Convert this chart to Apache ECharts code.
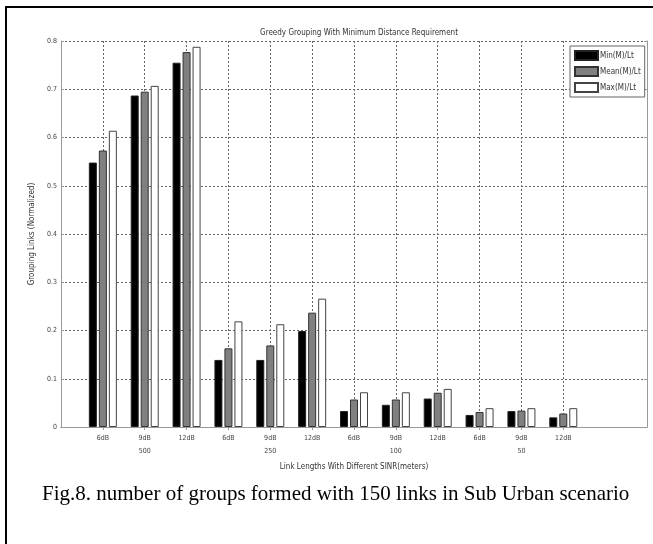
<!DOCTYPE html>
<html>
<head>
<meta charset="utf-8">
<script src="https://cdn.jsdelivr.net/npm/echarts@6/dist/echarts.min.js"></script>
<style>
html,body{margin:0;padding:0;background:#fff;}
#wrap{position:relative;width:653px;height:544px;overflow:hidden;}
#frame{position:absolute;left:5px;top:6px;width:660px;height:560px;border-left:2px solid #000;border-top:2px solid #000;box-sizing:border-box;}
#chart{position:absolute;left:0;top:0;width:653px;height:544px;}
#cap{position:absolute;left:42px;top:481px;font-family:'Liberation Serif','Times New Roman',serif;font-size:21px;color:#000;white-space:nowrap;}
</style>
</head>
<body>
<div id="wrap">
<div id="frame"></div>
<div id="chart"></div>
<div id="cap">Fig.8. number of groups formed with 150 links in Sub Urban scenario</div>
</div>
<script>
const categories = ['', '6dB','9dB','12dB','6dB','9dB','12dB','6dB','9dB','12dB','6dB','9dB','12dB', '', ''];
const groupLabels = {2:'500', 5:'250', 8:'100', 11:'50'};
const minVals  = [0.548,0.687,0.755,0.139,0.139,0.199,0.033,0.046,0.059,0.025,0.033,0.020];
const meanVals = [0.573,0.695,0.777,0.163,0.169,0.237,0.057,0.057,0.071,0.031,0.034,0.028];
const maxVals  = [0.614,0.707,0.788,0.219,0.213,0.266,0.072,0.072,0.079,0.039,0.039,0.039];
const seriesNames = ['Min(M)/Lt','Mean(M)/Lt','Max(M)/Lt'];
const yTicks = ['0','0.1','0.2','0.3','0.4','0.5','0.6','0.7','0.8'];

function pad(arr){ return [null].concat(arr).concat([null,null]); }
const font = "'Liberation Sans Narrow','DejaVu Sans Condensed','Liberation Sans',sans-serif";
const isTick = (i) => i >= 1 && i <= 12;

const chart = echarts.init(document.getElementById('chart'), null, {renderer:'canvas'});
chart.setOption({
  animation:false,
  backgroundColor:'transparent',
  title:{text:'Greedy Grouping With Minimum Distance Requirement', left:354, top:24, textAlign:'center',
    textStyle:{fontFamily:font,fontSize:8,fontWeight:'normal',color:'#333'}},
  legend:{orient:'vertical', left:570, top:46, itemWidth:23, itemHeight:9, itemGap:5,
    padding:[4,4,4,4], backgroundColor:'#fff', borderColor:'#666', borderWidth:1,
    textStyle:{fontFamily:font,fontSize:8,color:'#333',padding:[0,0,0,-3]},
    data:seriesNames.map(n=>({name:n, icon:'rect'}))},
  grid:{left:61,right:6,top:41,bottom:117},
  xAxis:[{type:'category', data:categories, boundaryGap:false,
    name:'Link Lengths With Different SINR(meters)', nameLocation:'middle', nameGap:34,
    nameTextStyle:{fontFamily:font,fontSize:8,color:'#333'},
    axisLine:{lineStyle:{color:'#999',width:1}},
    axisTick:{inside:true,length:3,interval:(i)=>isTick(i),lineStyle:{color:'#999'}},
    axisLabel:{interval:(i)=>isTick(i), margin:5, fontFamily:font, fontSize:7, color:'#444', lineHeight:13,
      formatter:(v,i)=> groupLabels[i] ? v+'\n'+groupLabels[i] : v},
    splitLine:{show:true, interval:(i)=>isTick(i), lineStyle:{type:[2,2],color:'#666',width:1}}},
    {type:'category', data:categories, boundaryGap:false, position:'top',
    axisLine:{lineStyle:{color:'#999'}}, axisLabel:{show:false},
    axisTick:{inside:true,length:3,interval:(i)=>isTick(i),lineStyle:{color:'#999'}}}],
  yAxis:[{type:'value', min:0, max:0.8, interval:0.1,
    name:'Grouping Links (Normalized)', nameLocation:'middle', nameGap:25,
    nameTextStyle:{fontFamily:font,fontSize:8,color:'#333'},
    axisLine:{show:true,lineStyle:{color:'#999'}},
    axisTick:{show:true,inside:true,length:3,lineStyle:{color:'#999'}},
    axisLabel:{fontFamily:font,fontSize:7,color:'#444',margin:4,formatter:(v)=>yTicks[Math.round(v*10)]},
    splitLine:{show:true,lineStyle:{type:[2,2],color:'#666',width:1}}},
    {type:'value', min:0, max:0.8, interval:0.1, position:'right',
    axisLine:{show:true,lineStyle:{color:'#999'}}, axisLabel:{show:false}, splitLine:{show:false},
    axisTick:{show:true,inside:true,length:3,lineStyle:{color:'#999'}}}],
  series:[
    {name:seriesNames[0], type:'bar', data:pad(minVals), barWidth:8, barGap:'25%',
      itemStyle:{color:'#000',borderColor:'#222',borderWidth:1}},
    {name:seriesNames[1], type:'bar', data:pad(meanVals), barWidth:8, barGap:'25%',
      itemStyle:{color:'#808080',borderColor:'#333',borderWidth:1}},
    {name:seriesNames[2], type:'bar', data:pad(maxVals), barWidth:8, barGap:'25%',
      itemStyle:{color:'#fff',borderColor:'#444',borderWidth:1}}
  ]
});
</script>
</body>
</html>
